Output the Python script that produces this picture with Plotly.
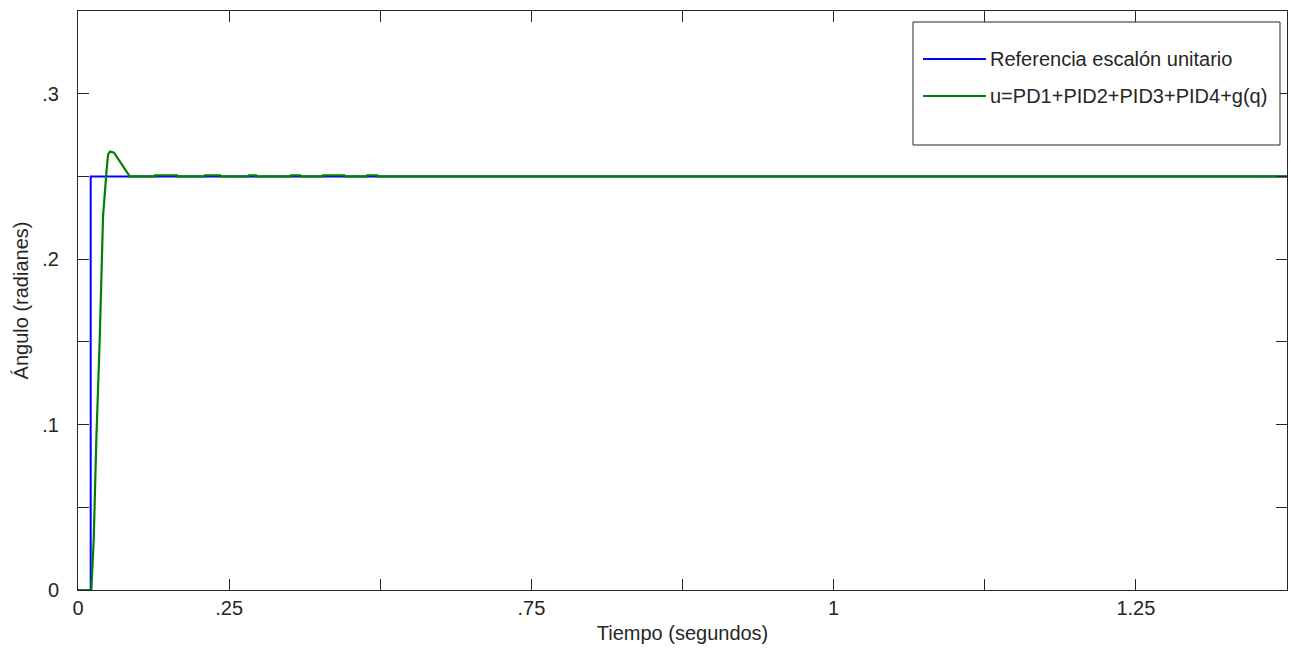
import plotly.graph_objects as go

# ---- data (time in seconds on the chart's own scale, angle in radians) ----
ref_name = "Referencia escalón unitario"
ctl_name = "u=PD1+PID2+PID3+PID4+g(q)"

t_ref = [0.0, 0.0210, 0.0210, 2.0]
y_ref = [0.0, 0.0, 0.25, 0.25]

t_ctl = [0.0, 0.0220, 0.0260, 0.0303, 0.0359, 0.0386, 0.0414, 0.0469, 0.0497, 0.0530, 0.0596, 0.0856,
         0.1275, 0.1275, 0.1639, 0.1639, 0.2103, 0.2103, 0.2351, 0.2351,
         0.2831, 0.2831, 0.2947, 0.2947, 0.3526, 0.3526, 0.3675, 0.3675,
         0.4056, 0.4056, 0.4404, 0.4404, 0.4785, 0.4785, 0.4950, 0.4950, 2.0]
y_ctl = [0.0, 0.0, 0.0302, 0.0907, 0.1512, 0.1954, 0.2257, 0.2520, 0.2632, 0.2650, 0.2644, 0.2500,
         0.2500, 0.2507, 0.2507, 0.2500, 0.2500, 0.2507, 0.2507, 0.2500,
         0.2500, 0.2507, 0.2507, 0.2500, 0.2500, 0.2507, 0.2507, 0.2500,
         0.2500, 0.2507, 0.2507, 0.2500, 0.2500, 0.2507, 0.2507, 0.2500, 0.2500]

x_tickvals = [0, 0.25, 0.5, 0.75, 1.0, 1.25, 1.5, 1.75]
x_ticktext = ["0", ".25", "", ".75", "", "1", "", "1.25"]
y_tickvals = [0, 0.05, 0.1, 0.15, 0.2, 0.25, 0.3]
y_ticktext = ["0", "", ".1", "", ".2", "", ".3"]

ref_color = "#0000FF"
ctl_color = "#008000"
font = "Liberation Sans, Arial, sans-serif"
fsize = 20

fig = go.Figure()
fig.add_trace(go.Scatter(x=t_ref, y=y_ref, mode="lines", name=ref_name,
                         line=dict(color=ref_color, width=2), showlegend=False))
fig.add_trace(go.Scatter(x=t_ctl, y=y_ctl, mode="lines", name=ctl_name,
                         line=dict(color=ctl_color, width=2.2), showlegend=False))

axis_common = dict(showgrid=False, zeroline=False, showline=True, linecolor="#262626",
                   linewidth=1, mirror="ticks", ticks="inside", ticklen=11,
                   tickcolor="#262626", tickwidth=1,
                   tickfont=dict(family=font, size=fsize, color="#262626"))

fig.update_xaxes(range=[0, 2.0], tickvals=x_tickvals, ticktext=x_ticktext,
                 title=dict(text="Tiempo (segundos)", font=dict(family=font, size=fsize, color="#262626"),
                            standoff=7),
                 **axis_common)
fig.update_yaxes(range=[0, 0.35], tickvals=y_tickvals, ticktext=y_ticktext,
                 ticklabelstandoff=14,
                 title=dict(text="Ángulo (radianes)", font=dict(family=font, size=fsize, color="#262626"),
                            standoff=8),
                 **axis_common)

# ---- legend drawn as a boxed key (paper coordinates) ----
L, R, T, B = 78, 1287, 11, 590
W, H = R - L, B - T
def px(x):
    return (x - L) / W
def py(y):
    return (B - y) / H

fig.add_shape(type="rect", xref="paper", yref="paper",
              x0=px(913), x1=px(1280), y0=py(145), y1=py(22),
              line=dict(color="#262626", width=1), fillcolor="white", layer="above")
for yy, col, name in [(59, ref_color, ref_name), (96, ctl_color, ctl_name)]:
    fig.add_shape(type="line", xref="paper", yref="paper",
                  x0=px(923), x1=px(986), y0=py(yy), y1=py(yy),
                  line=dict(color=col, width=2), layer="above")
    fig.add_annotation(xref="paper", yref="paper", x=px(988), y=py(yy),
                       text=name, showarrow=False, xanchor="left", yanchor="middle",
                       font=dict(family=font, size=fsize, color="#262626"))

fig.update_layout(width=1291, height=650, margin=dict(l=L, r=1291 - R, t=T, b=650 - B),
                  plot_bgcolor="white", paper_bgcolor="white",
                  font=dict(family=font, size=fsize, color="#262626"))

fig.write_html("out.html")
